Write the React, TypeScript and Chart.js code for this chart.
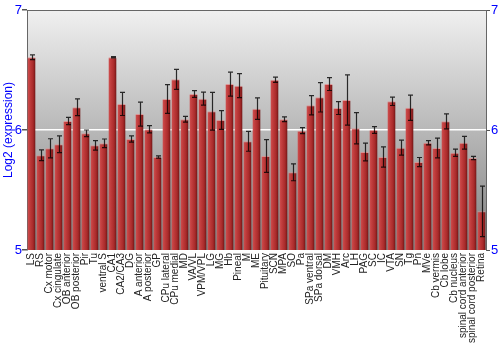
import React, { useEffect, useRef } from "react";
import { Chart, registerables } from "chart.js";

Chart.register(...registerables);

const regions = [
  "LS", "RS", "Cx motor", "Cx cingulate", "OB anterior", "OB posterior", "Pir", "Tu",
  "ventral S", "CA1", "CA2/CA3", "DG", "A anterior", "A posterior", "GP", "CPu lateral",
  "CPu medial", "MD", "VA/VL", "VPM/VPL", "LG", "MG", "Hb", "Pineal", "M", "ME",
  "Pituitary", "SCN", "MPA", "SO", "Pa", "SPa ventral", "SPa dorsal", "DM", "VMH", "Arc",
  "LH", "PAG", "SC", "IC", "VTA", "SN", "Tg", "Pn", "MVe", "Cb vermis", "Cb lobe",
  "Cb nucleus", "spinal cord anterior", "spinal cord posterior", "Retina",
];

const expression = [
  6.606, 5.789, 5.847, 5.881, 6.075, 6.189, 5.972, 5.872,
  5.889, 6.606, 6.217, 5.925, 6.133, 6.006, 5.775, 6.258,
  6.422, 6.089, 6.3, 6.261, 6.156, 6.083, 6.383, 6.369, 5.906, 6.178,
  5.783, 6.419, 6.089, 5.647, 5.994, 6.206, 6.272, 6.383, 6.183, 6.25,
  6.014, 5.817, 6.0, 5.775, 6.239, 5.853, 6.186, 5.733, 5.894, 5.85, 6.072,
  5.811, 5.894, 5.767, 5.322,
];

const errors = [
  0.02, 0.045, 0.08, 0.07, 0.03, 0.07, 0.028, 0.04,
  0.036, 0.005, 0.096, 0.026, 0.1, 0.03, 0.01, 0.12,
  0.083, 0.024, 0.028, 0.054, 0.157, 0.078, 0.1, 0.1, 0.083, 0.09,
  0.136, 0.022, 0.02, 0.07, 0.025, 0.08, 0.122, 0.054, 0.054, 0.21,
  0.13, 0.074, 0.028, 0.085, 0.035, 0.063, 0.105, 0.038, 0.018, 0.082, 0.0625,
  0.03, 0.053, 0.014, 0.21,
];

const yTicks = [5, 6, 7];

const bgPlugin = {
  id: "bgGradient",
  beforeDraw(chart: any) {
    const { ctx, chartArea } = chart;
    if (!chartArea) return;
    const g = ctx.createLinearGradient(0, chartArea.top, 0, chartArea.bottom);
    g.addColorStop(0, "#f0f0f0");
    g.addColorStop(1, "#808080");
    ctx.save();
    ctx.fillStyle = g;
    ctx.fillRect(chartArea.left, chartArea.top, chartArea.right - chartArea.left, chartArea.bottom - chartArea.top);
    ctx.restore();
  },
  afterDraw(chart: any) {
    const { ctx, chartArea } = chart;
    ctx.save();
    ctx.strokeStyle = "#666";
    ctx.lineWidth = 1;
    ctx.beginPath();
    ctx.moveTo(chartArea.left, chartArea.top + 0.5);
    ctx.lineTo(chartArea.right, chartArea.top + 0.5);
    ctx.stroke();
    ctx.restore();
  },
};

const errorBarPlugin = {
  id: "errorBars",
  afterDatasetsDraw(chart: any) {
    const { ctx } = chart;
    const xs = chart.scales.x;
    const ys = chart.scales.y;
    ctx.save();
    ctx.strokeStyle = "rgba(0,0,0,0.8)";
    ctx.lineWidth = 1.2;
    expression.forEach((v, i) => {
      const e = errors[i];
      const x = Math.round(xs.getPixelForValue(i)) + 0.5;
      const y1 = ys.getPixelForValue(v + e);
      const y2 = ys.getPixelForValue(v - e);
      ctx.beginPath();
      ctx.moveTo(x, y1);
      ctx.lineTo(x, y2);
      ctx.moveTo(x - 2.5, y1);
      ctx.lineTo(x + 2.5, y1);
      ctx.moveTo(x - 2.5, y2);
      ctx.lineTo(x + 2.5, y2);
      ctx.stroke();
    });
    ctx.restore();
  },
};

export default function App() {
  const ref = useRef<HTMLCanvasElement | null>(null);

  useEffect(() => {
    if (!ref.current) return;
    const chart = new Chart(ref.current, {
      type: "bar",
      data: {
        labels: regions,
        datasets: [
          {
            data: expression,
            backgroundColor: (c: any) => {
              const chart = c.chart;
              const xs = chart.scales?.x;
              if (!chart.chartArea || !xs || c.dataIndex === undefined) return "#b33";
              const cx = xs.getPixelForValue(c.dataIndex);
              const g = chart.ctx.createLinearGradient(cx - 4, 0, cx + 4, 0);
              g.addColorStop(0, "#cf5050");
              g.addColorStop(0.3, "#c03c3c");
              g.addColorStop(0.7, "#a82a2a");
              g.addColorStop(1, "#6e1414");
              return g;
            },
            borderColor: "rgba(225,140,140,0.8)",
            borderWidth: { top: 1, left: 0, right: 0, bottom: 0 },
            borderSkipped: false,
            categoryPercentage: 1,
            barPercentage: 0.9,
          },
        ],
      },
      options: {
        animation: false,
        responsive: false,
        maintainAspectRatio: false,
        layout: { padding: { top: 10, left: 0, right: 0, bottom: 0 } },
        plugins: { legend: { display: false }, tooltip: { enabled: false } },
        scales: {
          x: {
            grid: { display: false, drawTicks: false },
            border: { display: false },
            ticks: {
              autoSkip: false,
              maxRotation: 90,
              minRotation: 90,
              padding: 3,
              color: "#222",
              font: { family: "Liberation Sans, Arial, sans-serif", size: 10 },
            },
            afterFit: (s: any) => {
              s.height = 100;
            },
          },
          y: {
            position: "left",
            min: 5,
            max: 7,
            afterBuildTicks: (s: any) => {
              s.ticks = yTicks.map((v) => ({ value: v }));
            },
            grid: {
              color: (c: any) => (c.tick && c.tick.value === 6 ? "#ffffff" : "rgba(0,0,0,0)"),
              lineWidth: 1.5,
              tickColor: "#555",
              tickLength: 5,
              drawTicks: true,
            },
            border: { display: true, color: "#666", width: 1 },
            ticks: {
              padding: 0,
              color: "#0000ff",
              font: { family: "Liberation Sans, Arial, sans-serif", size: 13 },
            },
            title: {
              display: true,
              text: "Log2 (expression)",
              color: "#0000ff",
              font: { family: "Liberation Sans, Arial, sans-serif", size: 12 },
              padding: { top: 1, bottom: 0 },
            },
            afterFit: (s: any) => {
              s.width = 27;
            },
          },
          y2: {
            position: "right",
            min: 5,
            max: 7,
            afterBuildTicks: (s: any) => {
              s.ticks = yTicks.map((v) => ({ value: v }));
            },
            grid: {
              drawOnChartArea: false,
              tickColor: "#555",
              tickLength: 4,
            },
            border: { display: true, color: "#666", width: 1 },
            ticks: {
              padding: 1,
              color: "#0000ff",
              font: { family: "Liberation Sans, Arial, sans-serif", size: 13 },
            },
            afterFit: (s: any) => {
              s.width = 14;
            },
          },
        },
      } as any,
      plugins: [bgPlugin, errorBarPlugin],
    });
    return () => chart.destroy();
  }, []);

  return (
    <div style={{ position: "fixed", left: 0, top: 0, width: 500, height: 350, background: "#fff" }}>
      <canvas ref={ref} width={500} height={350} style={{ width: 500, height: 350 }} />
    </div>
  );
}
